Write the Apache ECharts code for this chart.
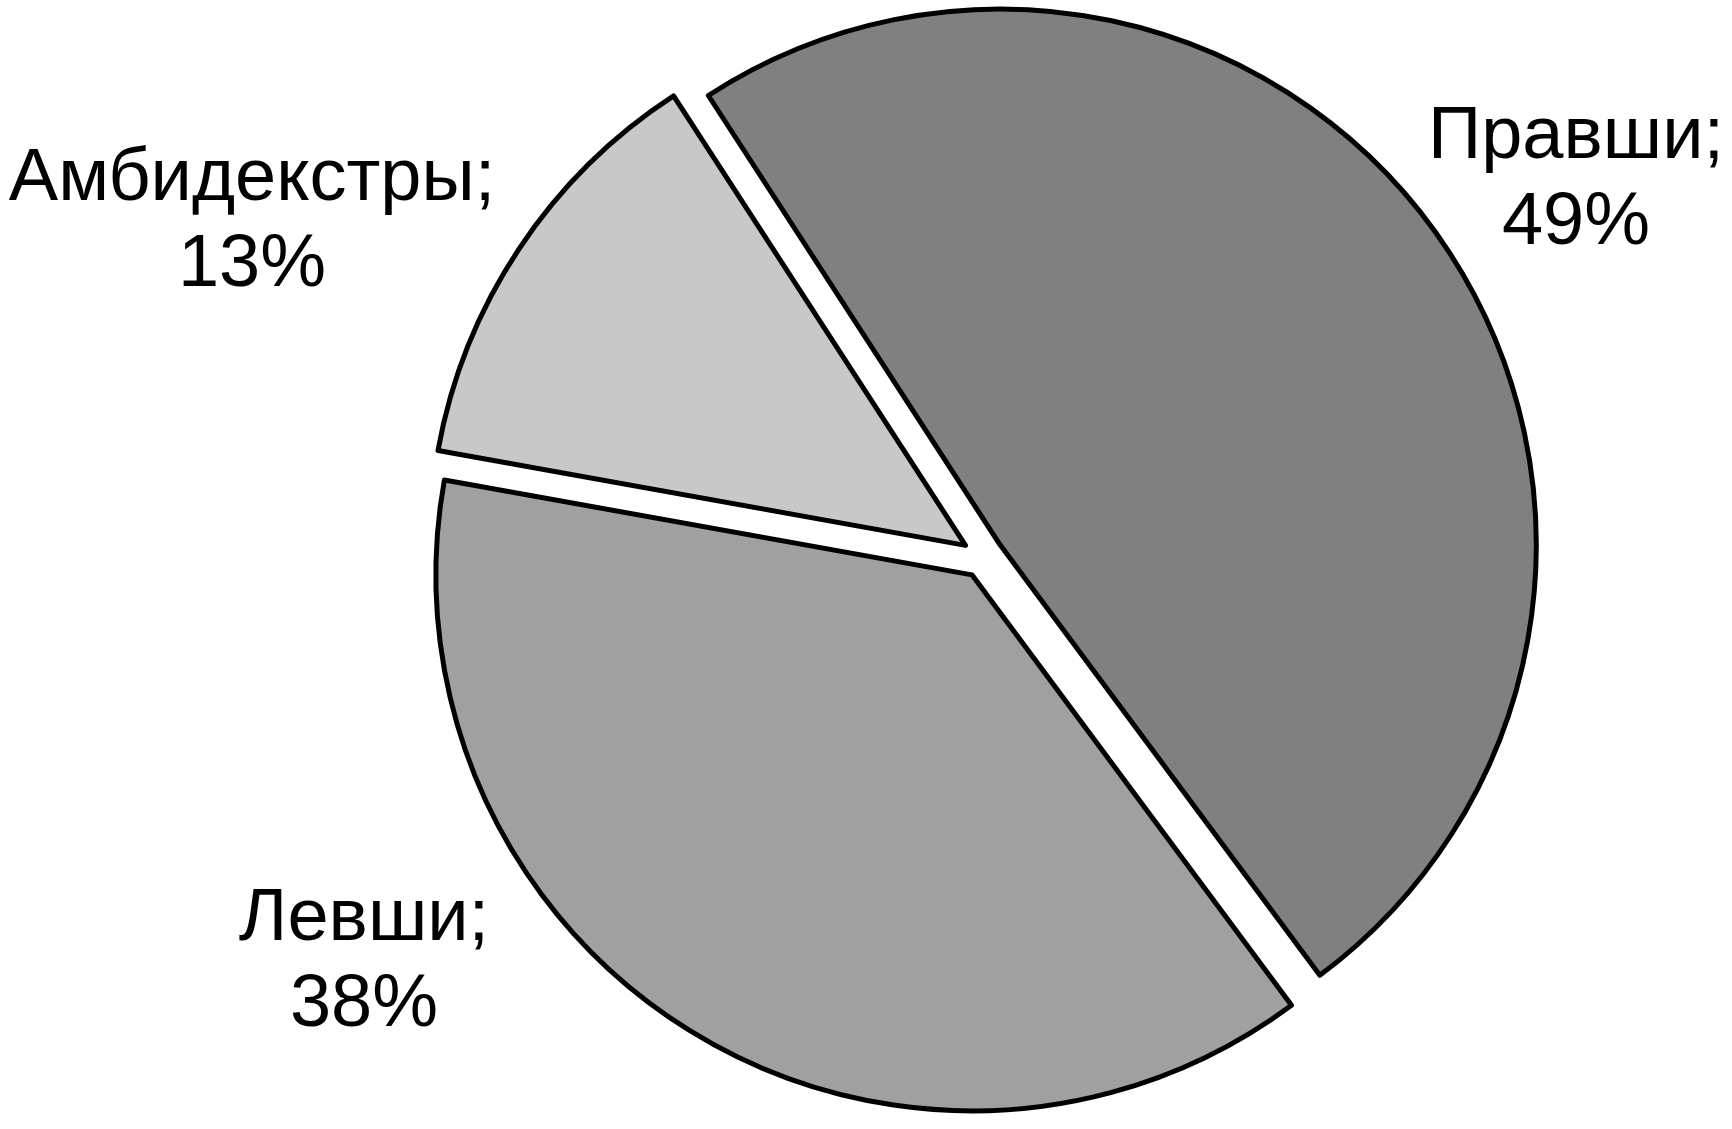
<!DOCTYPE html>
<html>
<head>
<meta charset="utf-8">
<script src="https://cdn.jsdelivr.net/npm/echarts@6/dist/echarts.min.js"></script>
<style>
html,body{margin:0;padding:0;background:#fff;}
#chart{width:1732px;height:1129px;}
</style>
</head>
<body>
<div id="chart"></div>
<script>
// Data
const categories = ['Правши', 'Левши', 'Амбидекстры'];
const values = [49, 38, 13];

// Styles / layout (kept separate from data)
const colors = ['#808080', '#a0a0a0', '#c8c8c8'];
const labelPos = [[1576, 181], [364, 963], [252, 223]];

const total = values.reduce((a, b) => a + b, 0);

const chart = echarts.init(document.getElementById('chart'));
chart.setOption({
  backgroundColor: '#ffffff',
  animation: false,
  graphic: categories.map((c, i) => ({
    type: 'text',
    x: labelPos[i][0],
    y: labelPos[i][1],
    silent: true,
    z: 100,
    style: {
      text: c + ';\n' + Math.round(values[i] / total * 100) + '%',
      fontFamily: 'Liberation Sans, Arial, sans-serif',
      fontSize: 74,
      lineHeight: 86,
      fill: '#000',
      align: 'center',
      verticalAlign: 'middle'
    }
  })),
  series: [{
    type: 'pie',
    center: [983, 557],
    radius: 536,
    startAngle: 123,
    clockwise: true,
    selectedMode: 'multiple',
    selectedOffset: 21,
    silent: true,
    emphasis: { scale: false },
    itemStyle: { borderColor: '#000', borderWidth: 5 },
    label: { show: false },
    labelLine: { show: false },
    data: categories.map((c, i) => ({
      name: c,
      value: values[i],
      selected: true,
      itemStyle: { color: colors[i] }
    }))
  }]
});
</script>
</body>
</html>
